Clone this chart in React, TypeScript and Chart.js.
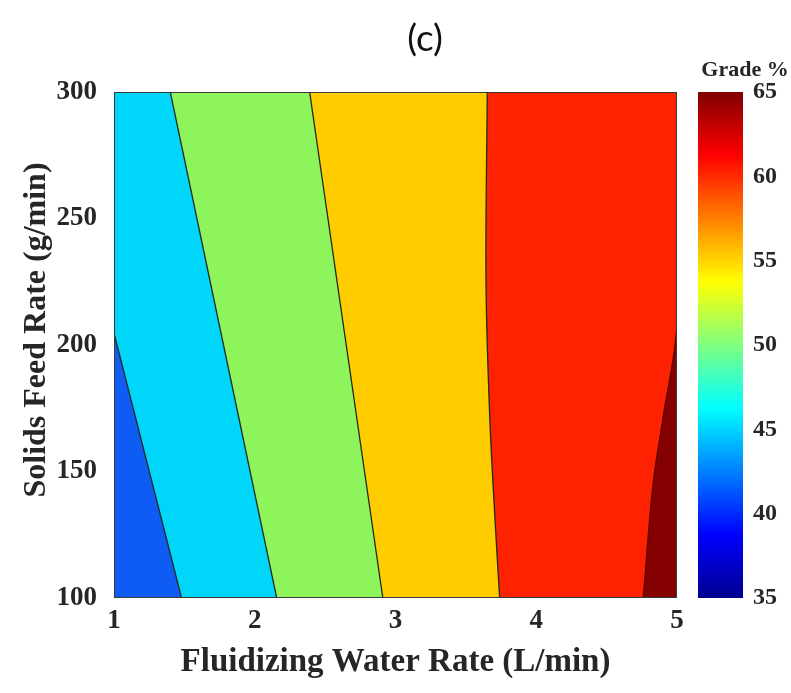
import React, { useEffect, useRef } from 'react';
import { Chart, registerables } from 'chart.js';

Chart.register(...registerables);

const W = 791;
const H = 693;

// axis ranges and ticks
const xRange = [1, 5];
const yRange = [100, 300];
const cbRange = [35, 65];
const xStep = 1;
const yStep = 50;
const cbStep = 5;

// texts
const titleText = '(c)';
const xTitle = 'Fluidizing Water Rate (L/min)';
const yTitle = 'Solids Feed Rate (g/min)';
const cbTitle = 'Grade %';

// contour regions, left to right (colour of the area right of each boundary)
const regionColors = ['#0F5CF5', '#00D5FA', '#8DF55B', '#FFCC00', '#FF2200', '#850000'];

// boundaries: water rate (x) at feed rate (y)
const edgeLeft = [
  { x: 1, y: 100 },
  { x: 1, y: 300 },
];
const contourA = [
  { x: 1.48, y: 100 },
  { x: 1.0, y: 204.7 },
  { x: 1.0, y: 300 },
];
const contourB = [
  { x: 2.156, y: 100 },
  { x: 1.4, y: 300 },
];
const contourC = [
  { x: 2.91, y: 100 },
  { x: 2.39, y: 300 },
];
const contourD = [
  { x: 3.74, y: 100 },
  { x: 3.707, y: 131 },
  { x: 3.67, y: 171 },
  { x: 3.643, y: 225 },
  { x: 3.652, y: 300 },
];
const contourE = [
  { x: 4.76, y: 100 },
  { x: 4.83, y: 145 },
  { x: 4.9, y: 171 },
  { x: 5.0, y: 208.7 },
  { x: 5.0, y: 300 },
];

const boundaries = [edgeLeft, contourA, contourB, contourC, contourD, contourE];
const boundaryTension = [0, 0, 0, 0, 0.35, 0.35];

// jet colour map stops for the colour bar
const jetStops: [number, string][] = [
  [0, '#00008F'],
  [0.125, '#0000FF'],
  [0.375, '#00FFFF'],
  [0.625, '#FFFF00'],
  [0.875, '#FF0000'],
  [1, '#800000'],
];

const SERIF = '"Liberation Serif", "Times New Roman", serif';
const TEXT = '#262626';

const decorPlugin = {
  id: 'decor',
  afterDraw(chart: any) {
    const { ctx, chartArea } = chart;
    const cb = chart.scales.cb;
    const top = cb.getPixelForValue(cbRange[1]);
    const bottom = cb.getPixelForValue(cbRange[0]);
    const x0 = chartArea.right + 21;
    const w = 45;
    ctx.save();
    const g = ctx.createLinearGradient(0, bottom, 0, top);
    jetStops.forEach(([o, c]) => g.addColorStop(o, c));
    ctx.fillStyle = g;
    ctx.fillRect(x0, top, w, bottom - top);

    // plot frame
    ctx.strokeStyle = '#3a3a3a';
    ctx.lineWidth = 1;
    ctx.strokeRect(chartArea.left + 0.5, chartArea.top + 0.5, chartArea.width - 1, chartArea.height - 1);

    ctx.fillStyle = '#111';
    ctx.textAlign = 'center';
    ctx.textBaseline = 'middle';
    ctx.font = '37px Lato, "Open Sans", sans-serif';
    ctx.fillText(titleText, 425, 39);

    ctx.fillStyle = TEXT;
    ctx.font = 'bold 22px ' + SERIF;
    ctx.fillText(cbTitle, 745, 70);

    ctx.font = 'bold 33px ' + SERIF;
    ctx.fillText(xTitle, (chartArea.left + chartArea.right) / 2, 662);

    ctx.font = 'bold 32px ' + SERIF;
    ctx.translate(37, 330);
    ctx.rotate(-Math.PI / 2);
    ctx.fillText(yTitle, 0, 0);
    ctx.restore();
  },
};

export default function App() {
  const ref = useRef<HTMLCanvasElement | null>(null);

  useEffect(() => {
    if (!ref.current) return;
    const datasets = boundaries.map((pts, i) => ({
      data: pts,
      backgroundColor: regionColors[i],
      borderColor: i === 0 ? 'rgba(0,0,0,0)' : i === 5 ? '#5a0000' : '#1f2a1f',
      borderWidth: i === 0 ? 0 : 1.3,
      pointRadius: 0,
      tension: boundaryTension[i],
      fill: { value: xRange[1] },
      order: boundaries.length - i,
    }));

    const chart = new Chart(ref.current, {
      type: 'line',
      data: { datasets },
      plugins: [decorPlugin],
      options: {
        animation: false,
        responsive: false,
        indexAxis: 'y',
        layout: { padding: { top: 92, left: 0, right: 0, bottom: 0 } },
        plugins: {
          legend: { display: false },
          tooltip: { enabled: false },
          title: { display: false },
        },
        scales: {
          x: {
            type: 'linear',
            position: 'bottom',
            min: xRange[0],
            max: xRange[1],
            ticks: { stepSize: xStep, padding: 7, color: TEXT, font: { family: SERIF, size: 27, weight: 'bold' } },
            grid: { display: false, drawTicks: false },
            border: { display: false },
            afterFit: (s: any) => {
              s.height = 95;
            },
          },
          y: {
            type: 'linear',
            position: 'left',
            min: yRange[0],
            max: yRange[1],
            ticks: { stepSize: yStep, padding: 17, color: TEXT, font: { family: SERIF, size: 27, weight: 'bold' } },
            grid: { display: false, drawTicks: false },
            border: { display: false },
            afterFit: (s: any) => {
              s.width = 114;
            },
          },
          cb: {
            type: 'linear',
            axis: 'y',
            position: 'right',
            min: cbRange[0],
            max: cbRange[1],
            ticks: { stepSize: cbStep, padding: 76, color: TEXT, font: { family: SERIF, size: 24, weight: 'bold' } },
            grid: { display: false, drawTicks: false },
            border: { display: false },
            afterFit: (s: any) => {
              s.width = 114;
            },
          },
        },
      } as any,
    });
    return () => chart.destroy();
  }, []);

  return (
    <div style={{ position: 'absolute', left: 0, top: 0, width: W, height: H, background: '#fff' }}>
      <canvas ref={ref} width={W} height={H} style={{ width: W, height: H, display: 'block' }} />
    </div>
  );
}
